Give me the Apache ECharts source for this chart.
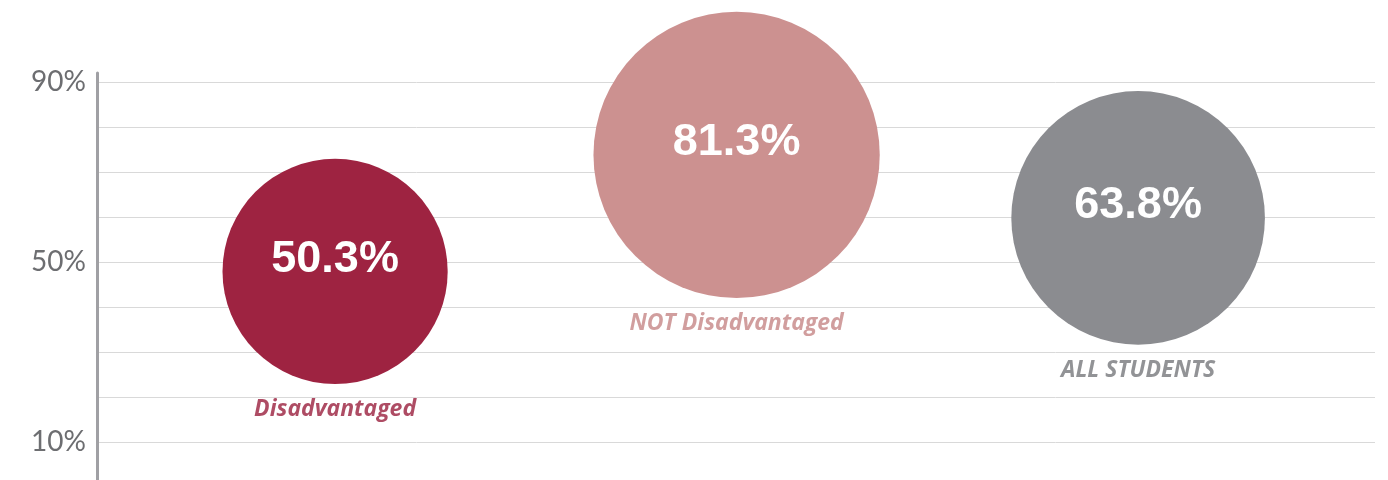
<!DOCTYPE html>
<html>
<head>
<meta charset="utf-8">
<script src="https://cdn.jsdelivr.net/npm/echarts@6/dist/echarts.min.js"></script>
<style>
    html, body { margin: 0; padding: 0; background: #fff; }
    #rate-bubbles { width: 1388px; height: 480px; }
</style>
</head>
<body>
<div id="rate-bubbles"></div>
<script>
const groups = ['Disadvantaged', 'NOT Disadvantaged', 'ALL STUDENTS']
const rates = [50.3, 81.3, 63.8]
// where each bubble sits against the y axis
const heights = [47.9, 73.8, 59.8]
const yTicks = [10, 50, 90]

const fills = ['#9e2341', '#cc9190', '#8b8c90']
const labelColors = ['#9a1f3d', '#c68686', '#77787c']

let chart = echarts.init(document.getElementById('rate-bubbles'))

const points = groups.map((g, i) => ({
    name: g,
    value: [i, heights[i], rates[i]]
}))

const bubbleSize = val => 31.75 * Math.sqrt(val[2])

let option = {
    animation: false,
    grid: {
        left: 97,
        right: 13,
        top: 73,
        height: 414,
        containLabel: false,
        outerBoundsMode: 'none'
    },
    xAxis: {
        type: 'value',
        min: -0.593,
        max: 2.59,
        show: false
    },
    yAxis: {
        type: 'value',
        min: 0,
        max: 92,
        interval: 10,
        axisLine: {
            show: true,
            onZero: false,
            lineStyle: { color: '#a0a0a4', width: 3 }
        },
        axisTick: { show: false },
        axisLabel: {
            showMaxLabel: false,
            margin: 11,
            color: '#6d6e71',
            fontFamily: 'Lato',
            fontWeight: 'normal',
            fontSize: 28,
            formatter: v => yTicks.includes(v) ? v + '%' : ''
        },
        splitLine: {
            show: true,
            showMaxLine: false,
            lineStyle: { color: '#d9d9d9', width: 1 }
        }
    },
    series: [
        {
            name: 'rate',
            type: 'scatter',
            silent: true,
            symbol: 'circle',
            symbolSize: bubbleSize,
            data: points,
            itemStyle: {
                opacity: 1,
                color: p => fills[p.dataIndex]
            },
            label: {
                show: true,
                position: 'inside',
                offset: [0, -12],
                color: '#fff',
                fontFamily: 'Liberation Sans',
                fontWeight: 'bold',
                fontSize: 45,
                formatter: p => p.value[2].toFixed(1) + '%'
            }
        },
        {
            name: 'group',
            type: 'scatter',
            silent: true,
            symbol: 'circle',
            symbolSize: bubbleSize,
            data: points.map((pt, i) => ({
                name: pt.name,
                value: pt.value,
                label: { color: labelColors[i] }
            })),
            itemStyle: { color: 'rgba(0,0,0,0)' },
            label: {
                show: true,
                position: 'bottom',
                distance: 14,
                fontFamily: 'Open Sans',
                fontWeight: 'bold',
                fontStyle: 'italic',
                fontSize: 23,
                formatter: p => p.name
            }
        }
    ]
}
chart.setOption(option)

window.addEventListener('resize', () => {
    chart.resize()
})
</script>
</body>
</html>
